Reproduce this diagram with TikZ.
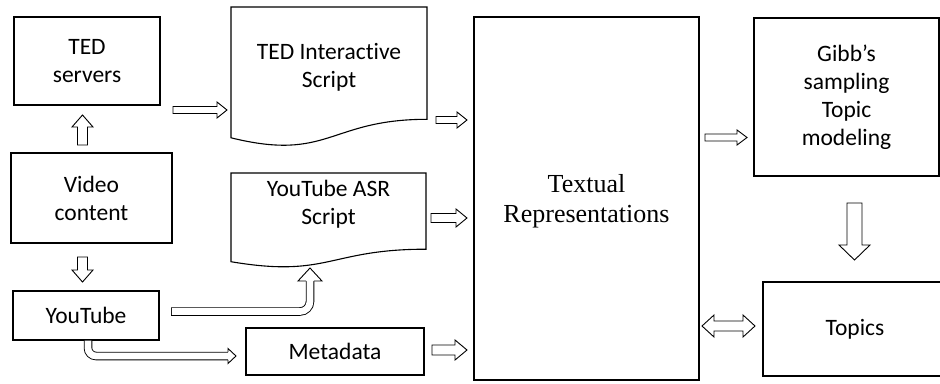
\documentclass[tikz,border=0pt]{standalone}
\usepackage{fontspec}
\setmainfont{Carlito}[Ligatures=NoCommon]
\newfontfamily\timesf{Liberation Serif}
\usetikzlibrary{calc}
\tikzset{
  box/.style={draw, line width=1.1pt, inner sep=0pt, align=center, font=\fontsize{23.5}{28}\selectfont},
  lbl/.style={inner sep=0pt, align=center, font=\fontsize{23.5}{28}\selectfont},
  docline/.style={draw, line width=1.1pt},
  blk/.style={draw, fill=white, line width=0.9pt, line join=miter},
}
% right-pointing block arrow: start, tip, shaft half, head half, head length
\newcommand\rarr[5]{\path[blk] let \p1=(#1), \p2=(#2) in
  (\x1,\y1+#3pt) -- (\x2-#5pt,\y1+#3pt) -- (\x2-#5pt,\y1+#4pt) -- (\x2,\y1) --
  (\x2-#5pt,\y1-#4pt) -- (\x2-#5pt,\y1-#3pt) -- (\x1,\y1-#3pt) -- cycle;}
% upward block arrow: base, tip
\newcommand\uarr[5]{\path[blk] let \p1=(#1), \p2=(#2) in
  (\x1-#3pt,\y1) -- (\x1-#3pt,\y2-#5pt) -- (\x1-#4pt,\y2-#5pt) -- (\x1,\y2) --
  (\x1+#4pt,\y2-#5pt) -- (\x1+#3pt,\y2-#5pt) -- (\x1+#3pt,\y1) -- cycle;}
% downward block arrow: base, tip
\newcommand\darr[5]{\path[blk] let \p1=(#1), \p2=(#2) in
  (\x1-#3pt,\y1) -- (\x1-#3pt,\y2+#5pt) -- (\x1-#4pt,\y2+#5pt) -- (\x1,\y2) --
  (\x1+#4pt,\y2+#5pt) -- (\x1+#3pt,\y2+#5pt) -- (\x1+#3pt,\y1) -- cycle;}
% double horizontal block arrow: left tip, right tip
\newcommand\lrarr[5]{\path[blk] let \p1=(#1), \p2=(#2) in
  (\x1,\y1) -- (\x1+#5pt,\y1+#4pt) -- (\x1+#5pt,\y1+#3pt) -- (\x2-#5pt,\y1+#3pt) --
  (\x2-#5pt,\y1+#4pt) -- (\x2,\y1) -- (\x2-#5pt,\y1-#4pt) -- (\x2-#5pt,\y1-#3pt) --
  (\x1+#5pt,\y1-#3pt) -- (\x1+#5pt,\y1-#4pt) -- cycle;}
\begin{document}
\begin{tikzpicture}[x=1pt, y=-1pt]
\useasboundingbox (0,0) rectangle (940,383);
\clip (0,0) rectangle (940,383);

% boxes
\node[box, minimum width=146pt, minimum height=88pt] (ted) at (87,61) {TED\\servers};
\node[box, minimum width=161pt, minimum height=90pt] (video) at (91.5,198) {Video\\content};
\node[box, minimum width=146pt, minimum height=49pt] (yt) at (86,315.5) {YouTube};
\node[box, minimum width=178pt, minimum height=47pt] (meta) at (335,351.5) {Metadata};
\node[box, minimum width=225pt, minimum height=363pt] (text) at (586.5,198.5) {};
\node[font=\timesf\fontsize{26}{30}\selectfont, align=center, inner sep=0pt] (textlbl) at (586.5,201.5) {Textual\\Representations};
\node[box, minimum width=185pt, minimum height=158pt] (gibb) at (846.5,97) {Gibb’s\\sampling\\Topic\\modeling};
\node[box, minimum width=184pt, minimum height=94pt] (topics) at (855,329) {Topics};

% document shapes
\path[docline] (231,7) -- (427,7) -- (427,119.3) .. controls (329,119.3) and (329,162) .. (231,137.8) -- cycle;
\node[lbl] (tedscript) at (329,67) {TED Interactive\\Script};
\path[docline] (231,173) -- (426,173) -- (426,249.2) .. controls (328.5,249.2) and (328.5,278.2) .. (231,261.7) -- cycle;
\node[lbl] (asr) at (328.5,204.5) {YouTube ASR\\Script};

% arrow end points
\coordinate (a1s) at (82.5,145);  \coordinate (a1e) at (82.5,115);
\coordinate (a2s) at (82.5,257);  \coordinate (a2e) at (82.5,282);
\coordinate (a3s) at (173,110);   \coordinate (a3e) at (227,110);
\coordinate (a4s) at (436,120);   \coordinate (a4e) at (467,120);
\coordinate (a5s) at (431,218);   \coordinate (a5e) at (467,218);
\coordinate (a6s) at (432,350);   \coordinate (a6e) at (467,350);
\coordinate (a7s) at (705,137.5); \coordinate (a7e) at (747,137.5);
\coordinate (a8s) at (854.5,203); \coordinate (a8e) at (854.5,260);
\coordinate (a9s) at (702,326);   \coordinate (a9e) at (755,326);

\uarr{a1s}{a1e}{5}{10.5}{12}
\darr{a2s}{a2e}{5}{10.5}{12}
\rarr{a3s}{a3e}{3.5}{8}{10}
\rarr{a4s}{a4e}{3.5}{8}{10}
\rarr{a5s}{a5e}{4.5}{9}{11}
\rarr{a6s}{a6e}{5}{10}{12}
\rarr{a7s}{a7e}{3.5}{7.5}{10}
\darr{a8s}{a8e}{7.5}{15.5}{15}
\lrarr{a9s}{a9e}{5}{11}{12}

% bent arrow YouTube -> ASR script
\coordinate (b1s) at (171,311.5);
\coordinate (b1c) at (310,311.5);
\coordinate (b1b) at (310,281);
\coordinate (b1t) at (310,268);
\draw[line width=8.5pt, rounded corners=10pt] (b1s) -- (b1c) -- (b1b);
\draw[white, line width=6.7pt, rounded corners=10pt, shorten <=0.9pt] (b1s) -- (b1c) -- (b1b);
\path[blk] let \p1=(b1b), \p2=(b1t) in
  (\x1-3.8pt,\y1) -- (\x1-12pt,\y1) -- (\x2,\y2) -- (\x1+12pt,\y1) -- (\x1+3.8pt,\y1);

% bent arrow YouTube -> Metadata
\coordinate (b2s) at (88,340.6);
\coordinate (b2c) at (88,356);
\coordinate (b2b) at (228,356);
\coordinate (b2t) at (236,356);
\draw[line width=8.5pt, rounded corners=8pt] (b2s) -- (b2c) -- (b2b);
\draw[white, line width=6.7pt, rounded corners=8pt] (b2s) -- (b2c) -- (b2b);
\path[blk] let \p1=(b2b), \p2=(b2t) in
  (\x1,\y1+3.8pt) -- (\x1,\y1+7.5pt) -- (\x2,\y2) -- (\x1,\y1-7.5pt) -- (\x1,\y1-3.8pt);
\end{tikzpicture}
\end{document}
